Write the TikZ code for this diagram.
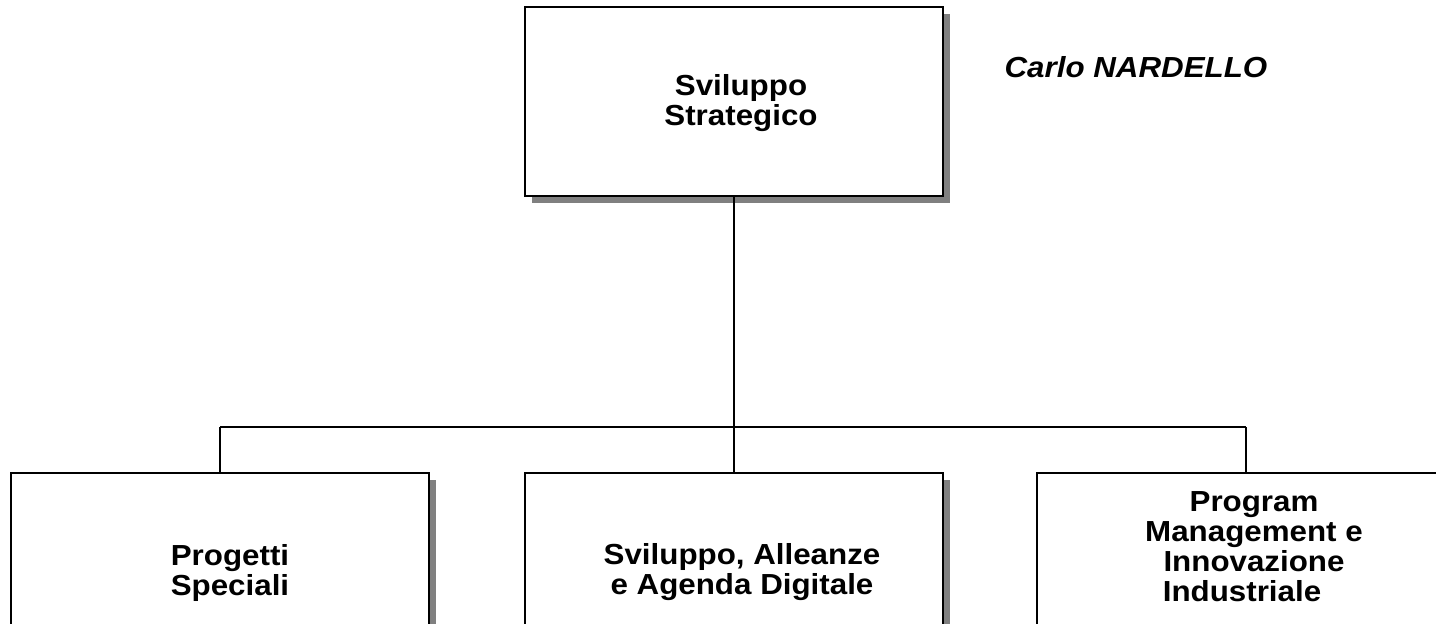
\documentclass[tikz,border=0pt]{standalone}
\usepackage{fontspec}
\setmainfont{Liberation Sans}[FakeStretch=1.08]
\usetikzlibrary{shadows}
\begin{document}
\begin{tikzpicture}[x=0.5pt,y=-0.5pt,
  box/.style={draw, line width=1.3pt, fill=white, minimum width=209pt, minimum height=94.5pt, inner sep=0pt,
    drop shadow={shadow xshift=3.3pt, shadow yshift=-3.3pt, fill=black!50, opacity=1}},
  lbl/.style={font=\bfseries\fontsize{14.5}{15}\selectfont, align=center, inner sep=0pt},
  conn/.style={line width=0.8pt},
  bus/.style={line width=1.3pt}]
\useasboundingbox (0,0) rectangle (1436,623);
\fill[white] (0,0) rectangle (1436,623);
\node[box] (top) at (734,101.5) {};
\node[box] (b1) at (220,567.5) {};
\node[box] (b2) at (734,567.5) {};
\node[box] (b3) at (1246,567.5) {};
\coordinate (busc) at (734,427);
\draw[conn] (top.south) -- (b2.north);
\draw[bus] (b1.north |- busc) -- (b3.north |- busc);
\draw[conn] (b1.north |- busc) -- (b1.north);
\draw[conn] (b3.north |- busc) -- (b3.north);
\node[lbl] (t0) at (741,103.5) {Sviluppo\\Strategico};
\node[lbl] (t1) at (230,573) {Progetti\\Speciali};
\node[lbl] (t2) at (742,572) {Sviluppo, Alleanze\\e Agenda Digitale};
\node[lbl] (t3) at (1254,547) {Program\\Management e\\Innovazione\\Industriale\hspace*{12pt}};
\node[lbl, font=\bfseries\itshape\fontsize{14.5}{15}\selectfont] (name) at (1136,67) {Carlo NARDELLO};
\end{tikzpicture}
\end{document}
